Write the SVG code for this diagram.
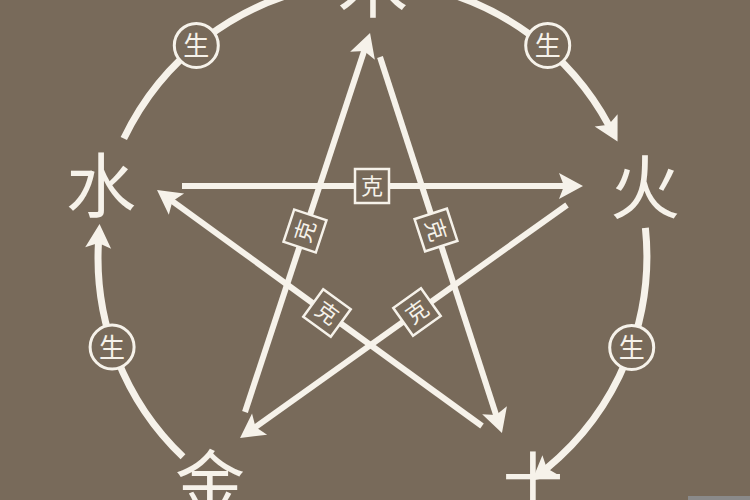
<svg xmlns="http://www.w3.org/2000/svg" width="750" height="500" viewBox="0 0 750 500">
  <style>
    .el { font-family: "Noto Sans CJK SC", "Noto Sans CJK TC", sans-serif; font-size: 70px; fill: #f6f2ea; text-anchor: middle; }
    .arc { fill: none; stroke: #f6f2ea; stroke-width: 7; }
    .star { fill: none; stroke: #f6f2ea; stroke-width: 6; }
    .ring { fill: #786a5a; stroke: #f6f2ea; stroke-width: 3; }
    .sheng { font-family: "Noto Sans CJK SC", sans-serif; font-size: 26px; fill: #f6f2ea; text-anchor: middle; }
    .box { fill: #786a5a; stroke: #f6f2ea; stroke-width: 2.5; }
    .ke { font-family: "Noto Sans CJK SC", sans-serif; font-size: 22px; fill: #f6f2ea; text-anchor: middle; }
  </style>
  <defs>
    <marker id="ah" markerUnits="userSpaceOnUse" viewBox="-8 -14 28 28" refX="0" refY="0" markerWidth="28" markerHeight="28" orient="auto">
      <path d="M18,0 L-6,-13 L-1,0 L-6,13 Z" fill="#f6f2ea"/>
    </marker>
  </defs>
  <rect x="0" y="0" width="750" height="500" fill="#786a5a"/>
  <rect x="688" y="496" width="62" height="4" fill="#8a8a8a"/>

  <g id="connectors">
    <!-- 生 cycle arcs (circle centre 372,257 r 275) -->
    <path class="arc" d="M123.8,138.6 A275,275 0 0 1 324.3,-13.8" marker-end="url(#ah)"/>
    <path class="arc" d="M419.8,-13.8 A275,275 0 0 1 609.0,125.6" marker-end="url(#ah)"/>
    <path class="arc" d="M645.4,227.8 A275,275 0 0 1 546.0,469.0" marker-end="url(#ah)"/>
    <path class="arc" d="M183.0,456.8 A275,275 0 0 1 98.5,242.0" marker-end="url(#ah)"/>
    <!-- 克 star lines -->
    <line class="star" x1="182" y1="186" x2="565" y2="186" marker-end="url(#ah)"/>
    <line class="star" x1="567" y1="205" x2="254.7" y2="427.6" marker-end="url(#ah)"/>
    <line class="star" x1="245" y1="412" x2="364.4" y2="50.1" marker-end="url(#ah)"/>
    <line class="star" x1="380" y1="57" x2="496.4" y2="415.9" marker-end="url(#ah)"/>
    <line class="star" x1="482" y1="426" x2="171.6" y2="200.6" marker-end="url(#ah)"/>
  </g>

  <g id="labels-sheng">
    <g transform="translate(196.3,45.4)"><circle class="ring" r="22"/><text class="sheng" y="10">生</text></g>
    <g transform="translate(547.7,45.4)"><circle class="ring" r="22"/><text class="sheng" y="10">生</text></g>
    <g transform="translate(112.1,347)"><circle class="ring" r="22"/><text class="sheng" y="10">生</text></g>
    <g transform="translate(631.7,347.4)"><circle class="ring" r="22"/><text class="sheng" y="10">生</text></g>
  </g>

  <g id="labels-ke">
    <g transform="translate(372,186)"><rect class="box" x="-17" y="-17" width="34" height="34"/><text class="ke" y="8">克</text></g>
    <g transform="translate(305,231) rotate(-71.7)"><rect class="box" x="-17" y="-17" width="34" height="34"/><text class="ke" y="8">克</text></g>
    <g transform="translate(436,230) rotate(72)"><rect class="box" x="-17" y="-17" width="34" height="34"/><text class="ke" y="8">克</text></g>
    <g transform="translate(327,313) rotate(36)"><rect class="box" x="-17" y="-17" width="34" height="34"/><text class="ke" y="8">克</text></g>
    <g transform="translate(417,312) rotate(-35.5)"><rect class="box" x="-17" y="-17" width="34" height="34"/><text class="ke" y="8">克</text></g>
  </g>

  <g id="node-mu"><text class="el" x="373" y="12">木</text></g>
  <g id="node-huo"><text class="el" x="645" y="214">火</text></g>
  <g id="node-tu"><text class="el" x="533" y="511">土</text></g>
  <g id="node-jin"><text class="el" x="210" y="509">金</text></g>
  <g id="node-shui"><text class="el" x="101" y="212">水</text></g>
</svg>
